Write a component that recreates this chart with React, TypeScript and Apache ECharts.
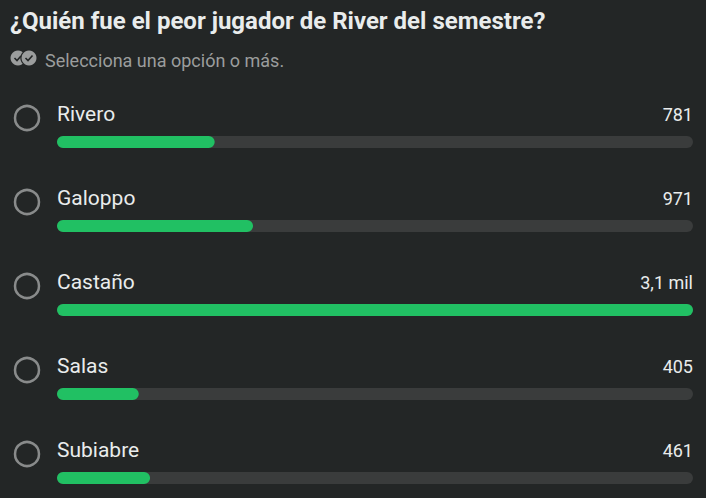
import React, { useEffect, useRef } from "react";
import * as echarts from "echarts";

const titleText = "¿Quién fue el peor jugador de River del semestre?";
const subtitleText = "Selecciona una opción o más.";
const options = ["Rivero", "Galoppo", "Castaño", "Salas", "Subiabre"];
const votes = [781, 971, 3150, 405, 461];
const voteLabels = ["781", "971", "3,1 mil", "405", "461"];

const BG = "#232626";
const TEXT = "#e9ecec";
const GREEN = "#21c063";
const TRACK = "#3a3c3c";
const GRAY = "#9b9d9d";
const FONT = "Roboto, 'Noto Sans', sans-serif";

export default function App() {
  const ref = useRef<HTMLDivElement>(null);
  useEffect(() => {
    if (!ref.current) return;
    const chart = echarts.init(ref.current, undefined, { renderer: "svg" });
    const maxVotes = Math.max(...votes);
    const option: any = {
      animation: false,
      backgroundColor: BG,
      textStyle: { fontFamily: FONT },
      title: [
        {
          text: titleText,
          left: 5,
          top: 4,
          textStyle: { color: TEXT, fontSize: 24, fontWeight: "bold", fontFamily: FONT },
        },
        {
          text: subtitleText,
          left: 40,
          top: 46,
          textStyle: { color: GRAY, fontSize: 18, fontWeight: "normal", fontFamily: FONT },
        },
      ],
      graphic: [
        { type: "circle", shape: { cx: 18, cy: 58, r: 7.5 }, style: { fill: GRAY } },
        { type: "circle", shape: { cx: 29, cy: 58, r: 8.7 }, style: { fill: BG } },
        { type: "circle", shape: { cx: 29, cy: 58, r: 7.5 }, style: { fill: GRAY } },
        {
          type: "polyline",
          shape: { points: [[14.5, 58], [17, 60.5], [21, 56]] },
          style: { stroke: BG, lineWidth: 1.6, fill: null },
        },
        {
          type: "polyline",
          shape: { points: [[25.5, 58], [28, 60.5], [32.5, 55.5]] },
          style: { stroke: BG, lineWidth: 1.6, fill: null },
        },
      ],
      grid: [
        { left: 57, width: 636, top: 100, height: 420, outerBoundsMode: "none", containLabel: false },
        { left: 0, width: 54, top: 100, height: 420, outerBoundsMode: "none", containLabel: false },
      ],
      xAxis: [
        { type: "value", gridIndex: 0, min: 0, max: maxVotes, show: false },
        { type: "category", gridIndex: 1, data: ["o"], show: false },
      ],
      yAxis: [
        { type: "category", gridIndex: 0, data: options, inverse: true, show: false },
        { type: "category", gridIndex: 1, data: options, inverse: true, show: false },
      ],
      series: [
        {
          type: "bar",
          xAxisIndex: 0,
          yAxisIndex: 0,
          data: options.map(() => maxVotes),
          barWidth: 12,
          barGap: "-100%",
          itemStyle: { color: TRACK, borderRadius: 6 },
          label: {
            show: true,
            position: ["100%", -22],
            align: "right",
            verticalAlign: "middle",
            color: TEXT,
            fontSize: 18,
            fontWeight: "normal",
            fontFamily: FONT,
            formatter: (p: any) => voteLabels[p.dataIndex],
          },
          silent: true,
          z: 1,
        },
        {
          type: "bar",
          xAxisIndex: 0,
          yAxisIndex: 0,
          data: votes,
          barWidth: 12,
          barGap: "-100%",
          itemStyle: { color: GREEN, borderRadius: 6 },
          label: {
            show: true,
            position: [0, -22],
            align: "left",
            verticalAlign: "middle",
            color: TEXT,
            fontSize: 21,
            fontFamily: FONT,
            formatter: (p: any) => options[p.dataIndex],
          },
          silent: true,
          z: 2,
        },
        {
          type: "scatter",
          xAxisIndex: 1,
          yAxisIndex: 1,
          data: options.map((o) => ["o", o]),
          symbol: "circle",
          symbolSize: 24,
          symbolOffset: [0, -24],
          itemStyle: { color: "rgba(0,0,0,0)", borderColor: "#a3a5a5", borderWidth: 2.5 },
          silent: true,
        },
      ],
    };
    chart.setOption(option);
    return () => chart.dispose();
  }, []);
  return (
    <div
      ref={ref}
      style={{ position: "absolute", left: 0, top: 0, width: 706, height: 498 }}
    />
  );
}
